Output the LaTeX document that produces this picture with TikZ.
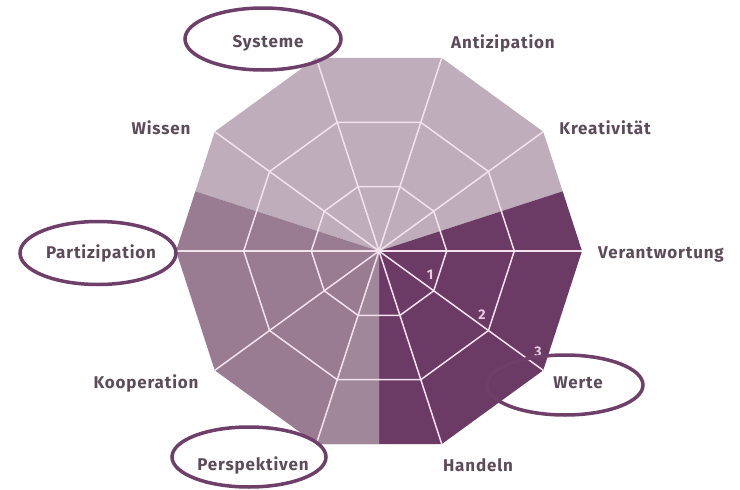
\documentclass[tikz,border=0pt]{standalone}
\usepackage{fontspec}
\setmainfont{Fira Sans}
\usetikzlibrary{shapes.geometric}
\definecolor{lightc}{HTML}{BFADBB}
\definecolor{medc}{HTML}{997B92}
\definecolor{medlc}{HTML}{A1879A}
\definecolor{darkc}{HTML}{6B3B65}
\definecolor{gridc}{HTML}{F3E2EE}
\definecolor{numc}{HTML}{E9CCE1}
\definecolor{labc}{HTML}{5C4B59}
\definecolor{ringc}{HTML}{6E3F68}
\tikzset{
  gridline/.style={draw=gridc, line width=1.5pt},
  axislabel/.style={text=labc, font=\bfseries\fontsize{17}{19}\selectfont\addfontfeatures{LetterSpace=5}, inner sep=0pt, anchor=center},
  numlabel/.style={text=numc, font=\bfseries\fontsize{14}{16}\selectfont, inner sep=0pt},
  hiring/.style={draw=ringc, line width=3.5pt, ellipse, inner sep=0pt}
}
\begin{document}
\begin{tikzpicture}[x=1pt,y=-1pt]
\useasboundingbox[fill=white] (0,0) rectangle (740,490);
\begin{scope}[shift={(379,251)}, yscale=-1]
  \coordinate (c) at (0,0);
  \foreach \i in {0,...,9}{\coordinate (v\i) at (\i*36:203);}
  % sector fills
  \fill[lightc] (c) -- (18:193.1) -- (v1) -- (v2) -- (v3) -- (v4) -- (162:193.1) -- cycle;
  \fill[darkc] (c) -- (18:193.1) -- (v0) -- (v9) -- (v8) -- (270:193.1) -- cycle;
  \fill[medc] (c) -- (270:193.1) -- (v7) -- (v6) -- (v5) -- (162:193.1) -- cycle;
  \fill[medlc] (c) -- (270:193.1) -- (v7) -- cycle;
  % rings
  \draw[gridline] (0:67.7) \foreach \a in {36,72,...,324}{ -- (\a:67.7)} -- cycle;
  \draw[gridline] (0:135.3) \foreach \a in {36,72,...,324}{ -- (\a:135.3)} -- cycle;
  % spokes
  \foreach \i in {0,...,9}{\draw[gridline] (c) -- (v\i);}
\end{scope}
% scale numbers
\node[numlabel] (n1) at (430,275) {1};
\node[numlabel] (n2) at (482,315) {2};
\node[numlabel] (n3) at (538,352) {3};
% axis labels
\node[axislabel] (systeme) at (268,43) {Systeme};
\node[axislabel] (antiz) at (503,43) {Antizipation};
\node[axislabel] (kreat) at (605,128) {Kreativität};
\node[axislabel] (verant) at (661,254) {Verantwortung};
\node[axislabel] (werte) at (578,383) {Werte};
\node[axislabel] (handeln) at (478,465) {Handeln};
\node[axislabel] (persp) at (253,465) {Perspektiven};
\node[axislabel] (koop) at (146,383) {Kooperation};
\node[axislabel] (partiz) at (101,253) {Partizipation};
\node[axislabel] (wissen) at (161,128) {Wissen};
% highlight ellipses
\node[hiring, minimum width=156pt, minimum height=62pt] (e1) at (263,39) {};
\node[hiring, minimum width=156pt, minimum height=63pt] (e2) at (98,253) {};
\node[hiring, minimum width=156pt, minimum height=60pt] (e3) at (565,385) {};
\node[hiring, minimum width=154pt, minimum height=60pt] (e4) at (249,457) {};
\end{tikzpicture}
\end{document}
